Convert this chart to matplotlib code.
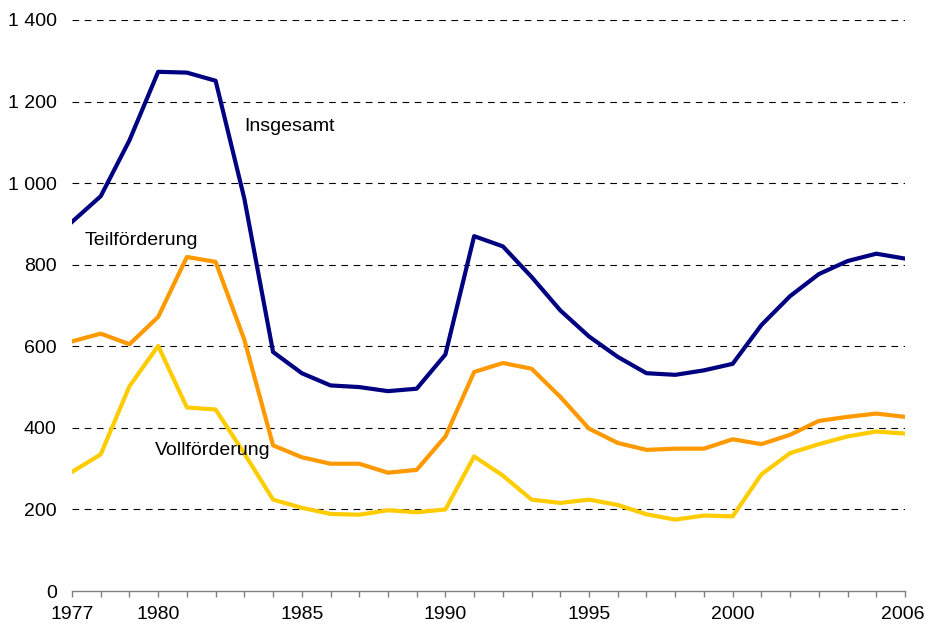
import matplotlib.pyplot as plt
from matplotlib.transforms import ScaledTranslation

plt.rcParams["font.family"] = ["Liberation Sans", "DejaVu Sans"]

years = list(range(1977, 2007))

insgesamt = [905, 968, 1105, 1273, 1271, 1251, 962, 586, 534, 504,
             500, 490, 496, 580, 870, 845, 770, 688, 624, 574,
             534, 530, 541, 557, 652, 723, 777, 809, 827, 815]
teilfoerderung = [612, 631, 605, 672, 819, 807, 616, 357, 328, 312,
                  312, 290, 297, 379, 537, 559, 545, 476, 398, 363,
                  346, 349, 349, 372, 360, 383, 417, 427, 435, 427]
vollfoerderung = [292, 335, 502, 601, 450, 445, 337, 224, 204, 189,
                  187, 198, 193, 200, 330, 283, 224, 216, 224, 211,
                  188, 175, 185, 183, 286, 338, 360, 379, 391, 386]

labelled_years = [1977, 1980, 1985, 1990, 1995, 2000, 2006]
y_ticks = [0, 200, 400, 600, 800, 1000, 1200, 1400]

fig = plt.figure(figsize=(9.25, 6.31), dpi=100)
ax = fig.add_axes([72 / 925, 40 / 631, 833 / 925, 571 / 631])

# dashed horizontal gridlines
for v in y_ticks[1:]:
    ax.axhline(v, color="black", linestyle=(0, (6, 5)), linewidth=0.8, zorder=1)

ax.plot(years, insgesamt, color="#000080", linewidth=3, zorder=3)
ax.plot(years, teilfoerderung, color="#FF9900", linewidth=3, zorder=3)
ax.plot(years, vollfoerderung, color="#FFCC00", linewidth=3, zorder=3)

ax.text(1983.0, 1140, "Insgesamt", fontsize=14, va="center", ha="left")
ax.text(1977.45, 860, "Teilförderung", fontsize=14, va="center", ha="left")
ax.text(1979.9, 345, "Vollförderung", fontsize=14, va="center", ha="left")

ax.set_xlim(1977, 2006)
ax.set_ylim(0, 1400)

ax.set_xticks(years)
ax.set_xticklabels([str(y) if y in labelled_years else "" for y in years])
ax.set_yticks(y_ticks)
ax.set_yticklabels([f"{v:,}".replace(",", " ") for v in y_ticks])

for side in ["left", "right", "top"]:
    ax.spines[side].set_visible(False)
ax.spines["bottom"].set_color("#808080")
ax.spines["bottom"].set_linewidth(1)
ax.spines["bottom"].set_zorder(4)

ax.tick_params(axis="x", direction="out", length=4, width=1, color="#808080",
               labelsize=14, pad=7)
ax.tick_params(axis="y", length=0, labelsize=14, pad=11)

# nudge the last year label left so it stays inside the figure
last = ax.xaxis.get_major_ticks()[-1].label1
last.set_transform(last.get_transform() + ScaledTranslation(-0.025, 0, fig.dpi_scale_trans))

plt.savefig("out.png", dpi=100)
